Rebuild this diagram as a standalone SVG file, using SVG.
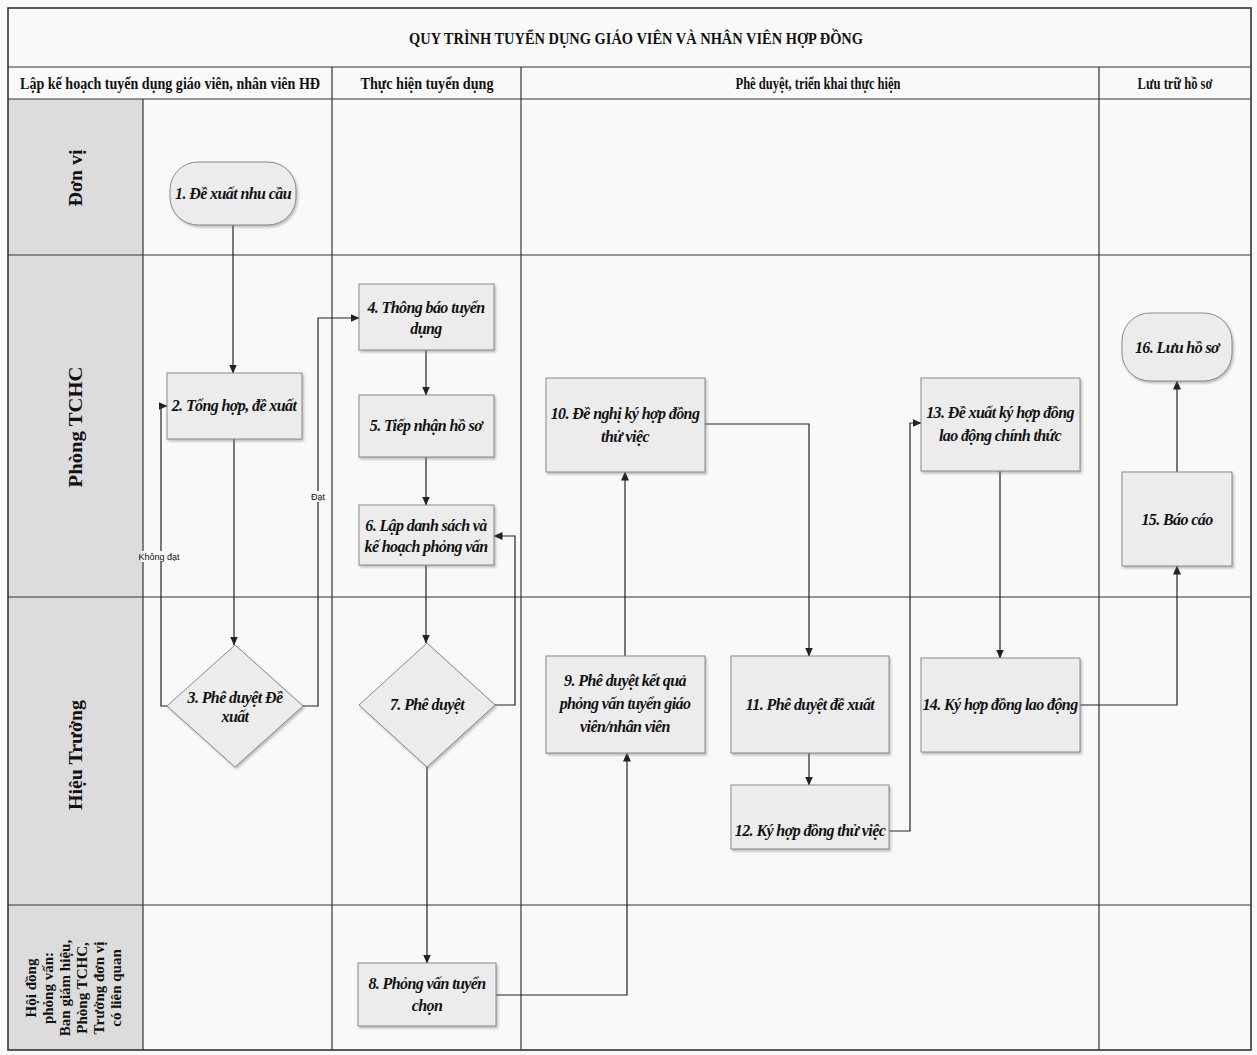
<svg xmlns="http://www.w3.org/2000/svg" width="1257" height="1055" viewBox="0 0 1257 1055">
<defs>
<marker id="arr" markerWidth="9" markerHeight="8" refX="8.5" refY="4" orient="auto" markerUnits="userSpaceOnUse">
<path d="M0,0 L9,4 L0,8 Z" fill="#222"/>
</marker>
<filter id="sh" x="-10%" y="-10%" width="125%" height="130%">
<feDropShadow dx="1.5" dy="2" stdDeviation="1" flood-color="#777" flood-opacity="0.45"/>
</filter>
</defs>
<style>
.grid{stroke:#333;stroke-width:1.2;fill:none}
.outer{stroke:#333;stroke-width:1.6;fill:none}
.box{fill:#ececec;stroke:#8a8a8a;stroke-width:1;filter:url(#sh)}
.nt{font-family:"Liberation Serif",serif;font-weight:bold;font-style:italic;font-size:16px;letter-spacing:-0.6px;fill:#111;text-anchor:middle}
.hd{font-family:"Liberation Serif",serif;font-weight:bold;font-size:16px;fill:#111;text-anchor:middle}
.ln{font-family:"Liberation Serif",serif;font-weight:bold;font-size:18px;fill:#111;text-anchor:middle}
.lh{font-family:"Liberation Serif",serif;font-weight:bold;font-size:15px;fill:#111;text-anchor:middle}
.cn{stroke:#222;stroke-width:1.2;fill:none;marker-end:url(#arr)}
.lb{font-family:"Liberation Sans",sans-serif;font-size:9px;fill:#111;text-anchor:middle}
</style>
<rect x="0" y="0" width="1257" height="1055" fill="#f9f9f9"/>
<g id="lanes">
<rect x="8" y="99" width="135" height="951" fill="#dcdcdc"/>
<rect x="8" y="8" width="1243" height="1042" class="outer"/>
<line x1="8" y1="67" x2="1251" y2="67" class="grid"/>
<line x1="8" y1="99" x2="1251" y2="99" class="grid"/>
<line x1="143" y1="99" x2="143" y2="1050" class="grid"/>
<line x1="332" y1="67" x2="332" y2="1050" class="grid"/>
<line x1="521" y1="67" x2="521" y2="1050" class="grid"/>
<line x1="1099" y1="67" x2="1099" y2="1050" class="grid"/>
<line x1="8" y1="255" x2="1251" y2="255" class="grid"/>
<line x1="8" y1="597" x2="1251" y2="597" class="grid"/>
<line x1="8" y1="905" x2="1251" y2="905" class="grid"/>
<text x="636" y="44" class="hd" textLength="454" lengthAdjust="spacingAndGlyphs">QUY TRÌNH TUYỂN DỤNG GIÁO VIÊN VÀ NHÂN VIÊN HỢP ĐỒNG</text>
<text x="170" y="89" class="hd" textLength="300" lengthAdjust="spacingAndGlyphs">Lập kế hoạch tuyển dụng giáo viên, nhân viên HĐ</text>
<text x="427" y="89" class="hd" textLength="133" lengthAdjust="spacingAndGlyphs">Thực hiện tuyển dụng</text>
<text x="818" y="89" class="hd" textLength="165" lengthAdjust="spacingAndGlyphs">Phê duyệt, triển khai thực hiện</text>
<text x="1175" y="89" class="hd" textLength="75" lengthAdjust="spacingAndGlyphs">Lưu trữ hồ sơ</text>
<text transform="translate(82,178) rotate(-90)" class="ln" textLength="57" lengthAdjust="spacingAndGlyphs">Đơn vị</text>
<text transform="translate(82,427) rotate(-90)" class="ln" textLength="121" lengthAdjust="spacingAndGlyphs">Phòng TCHC</text>
<text transform="translate(82,755) rotate(-90)" class="ln" textLength="110" lengthAdjust="spacingAndGlyphs">Hiệu Trưởng</text>
<g transform="translate(0,988) rotate(-90)">
<text x="0" y="36" class="lh">Hội đồng</text>
<text x="0" y="53" class="lh">phỏng vấn:</text>
<text x="0" y="70" class="lh">Ban giám hiệu,</text>
<text x="0" y="87" class="lh">Phòng TCHC,</text>
<text x="0" y="104" class="lh">Trưởng đơn vị</text>
<text x="0" y="121" class="lh">có liên quan</text>
</g>
</g>
<g id="connectors">
<path class="cn" d="M233,225 V373"/>
<path class="cn" d="M234,439 V645"/>
<path class="cn" d="M167,706 H161 V406 H167"/>
<path class="cn" d="M303,706 H318 V318 H359"/>
<path class="cn" d="M426,350 V395"/>
<path class="cn" d="M426,457 V505"/>
<path class="cn" d="M426,565 V643"/>
<path class="cn" d="M495,705 H515 V536 H494"/>
<path class="cn" d="M427,767 V963"/>
<path class="cn" d="M496,995 H627 V753"/>
<path class="cn" d="M625,656 V472"/>
<path class="cn" d="M705,424 H809 V656"/>
<path class="cn" d="M809,753 V785"/>
<path class="cn" d="M889,831 H910 V423 H921"/>
<path class="cn" d="M1000,471 V658"/>
<path class="cn" d="M1080,705 H1177 V566"/>
<path class="cn" d="M1177,472 V381"/>
<rect x="141" y="551" width="36" height="11" fill="#f9f9f9"/>
<text x="159" y="560" class="lb">Không đạt</text>
<rect x="311" y="491" width="15" height="11" fill="#f9f9f9"/>
<text x="318" y="500" class="lb">Đạt</text>
</g>
<g id="n1"><rect x="170" y="162" width="126" height="63" rx="28" class="box"/><text x="233" y="199" class="nt">1. Đề xuất nhu cầu</text></g>
<g id="n2"><rect x="167" y="373" width="135" height="66" class="box"/><text x="234" y="411" class="nt">2. Tổng hợp, đề xuất</text></g>
<g id="n3"><path d="M235,645 L303,706 L235,767 L167,706 Z" class="box"/><text x="235" y="703" class="nt">3. Phê duyệt Đề</text><text x="235" y="722" class="nt">xuất</text></g>
<g id="n4"><rect x="359" y="284" width="135" height="66" class="box"/><text x="426" y="313" class="nt">4. Thông báo tuyển</text><text x="426" y="334" class="nt">dụng</text></g>
<g id="n5"><rect x="359" y="395" width="135" height="62" class="box"/><text x="426" y="431" class="nt">5. Tiếp nhận hồ sơ</text></g>
<g id="n6"><rect x="359" y="505" width="135" height="60" class="box"/><text x="426" y="531" class="nt">6. Lập danh sách và</text><text x="426" y="552" class="nt">kế hoạch phỏng vấn</text></g>
<g id="n7"><path d="M427,643 L495,705 L427,767 L359,705 Z" class="box"/><text x="427" y="710" class="nt">7. Phê duyệt</text></g>
<g id="n8"><rect x="358" y="963" width="138" height="63" class="box"/><text x="427" y="989" class="nt">8. Phỏng vấn tuyển</text><text x="427" y="1011" class="nt">chọn</text></g>
<g id="n9"><rect x="546" y="656" width="159" height="97" class="box"/><text x="625" y="686" class="nt">9. Phê duyệt kết quả</text><text x="625" y="709" class="nt">phỏng vấn tuyển giáo</text><text x="625" y="732" class="nt">viên/nhân viên</text></g>
<g id="n10"><rect x="546" y="378" width="159" height="94" class="box"/><text x="625" y="419" class="nt">10. Đề nghị ký hợp đồng</text><text x="625" y="442" class="nt">thử việc</text></g>
<g id="n11"><rect x="731" y="656" width="158" height="97" class="box"/><text x="810" y="710" class="nt">11. Phê duyệt đề xuất</text></g>
<g id="n12"><rect x="731" y="785" width="158" height="64" class="box"/><text x="810" y="836" class="nt">12. Ký hợp đồng thử việc</text></g>
<g id="n13"><rect x="921" y="378" width="159" height="93" class="box"/><text x="1000" y="418" class="nt">13. Đề xuất ký hợp đồng</text><text x="1000" y="441" class="nt">lao động chính thức</text></g>
<g id="n14"><rect x="921" y="658" width="159" height="94" class="box"/><text x="1000" y="710" class="nt">14. Ký hợp đồng lao động</text></g>
<g id="n15"><rect x="1122" y="472" width="110" height="94" class="box"/><text x="1177" y="525" class="nt">15. Báo cáo</text></g>
<g id="n16"><rect x="1122" y="313" width="110" height="68" rx="28" class="box"/><text x="1177" y="353" class="nt">16. Lưu hồ sơ</text></g>
</svg>
